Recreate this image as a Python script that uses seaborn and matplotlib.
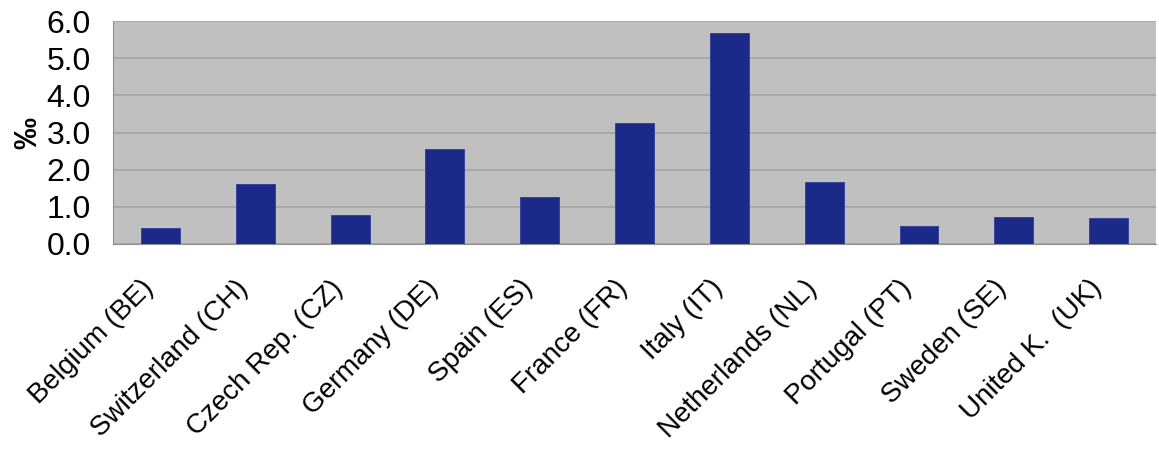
import numpy as np
import pandas as pd
import seaborn as sns
import matplotlib.pyplot as plt
from matplotlib.ticker import FixedLocator
from matplotlib.transforms import ScaledTranslation

# values (per mille)
countries = ['Belgium (BE)', 'Switzerland (CH)', 'Czech Rep. (CZ)', 'Germany (DE)',
             'Spain (ES)', 'France (FR)', 'Italy (IT)', 'Netherlands (NL)',
             'Portugal (PT)', 'Sweden (SE)', 'United K.  (UK)']
values = [0.42, 1.61, 0.77, 2.55, 1.27, 3.25, 5.69, 1.67, 0.47, 0.73, 0.69]
yticks = [0.0, 1.0, 2.0, 3.0, 4.0, 5.0, 6.0]

df = pd.DataFrame({'country': countries, 'value': values})

sns.set_style('white')
plt.rcParams['font.family'] = ['Liberation Sans', 'DejaVu Sans']
plt.rcParams['text.color'] = 'black'
plt.rcParams['xtick.color'] = 'black'
plt.rcParams['ytick.color'] = 'black'
plt.rcParams['axes.labelcolor'] = 'black'

fig = plt.figure(figsize=(11.59, 4.5), dpi=100)
ax = fig.add_axes([0.0975, 0.458, 0.9, 0.495])

sns.barplot(data=df, x='country', y='value', order=countries, color='#1b2a88',
            width=0.41, saturation=1, edgecolor='#2d3c9c', linewidth=0.6,
            ax=ax, zorder=3)

ax.set_facecolor('#c0c0c0')
ax.set_ylim(0, 6.0)
ax.set_xlim(-0.5, len(countries) - 0.5)
ax.set_yticks(yticks)
ax.set_yticklabels([f'{t:.1f}' for t in yticks], fontsize=23)
ax.yaxis.grid(True, color='#a4a4a4', linewidth=1.2, zorder=0)
ax.set_axisbelow(True)

ax.set_xticks(range(len(countries)))
ax.set_xticklabels(countries, rotation=45, ha='right', va='center',
                   rotation_mode='anchor', fontsize=20)
ax.tick_params(axis='x', length=0, pad=29)
ax.tick_params(axis='y', length=0, pad=16)
# nudge the rotated labels a little to the left, as in the original
shift = ScaledTranslation(-0.11, 0, fig.dpi_scale_trans)
for lbl in ax.get_xticklabels():
    lbl.set_transform(lbl.get_transform() + shift)
ax.xaxis.set_minor_locator(FixedLocator(np.arange(-0.5, len(countries), 1.0)))
ax.tick_params(axis='x', which='minor', length=6, color='#d0d0d0', direction='out')

for side in ['top', 'right']:
    ax.spines[side].set_visible(False)
ax.spines['left'].set_color('#909090')
ax.spines['bottom'].set_color('#909090')

ax.set_xlabel('')
ax.set_ylabel('‰', fontsize=23, fontweight='bold')
ax.yaxis.set_label_coords(-0.067, 0.5)

fig.savefig('out.png', dpi=100)
